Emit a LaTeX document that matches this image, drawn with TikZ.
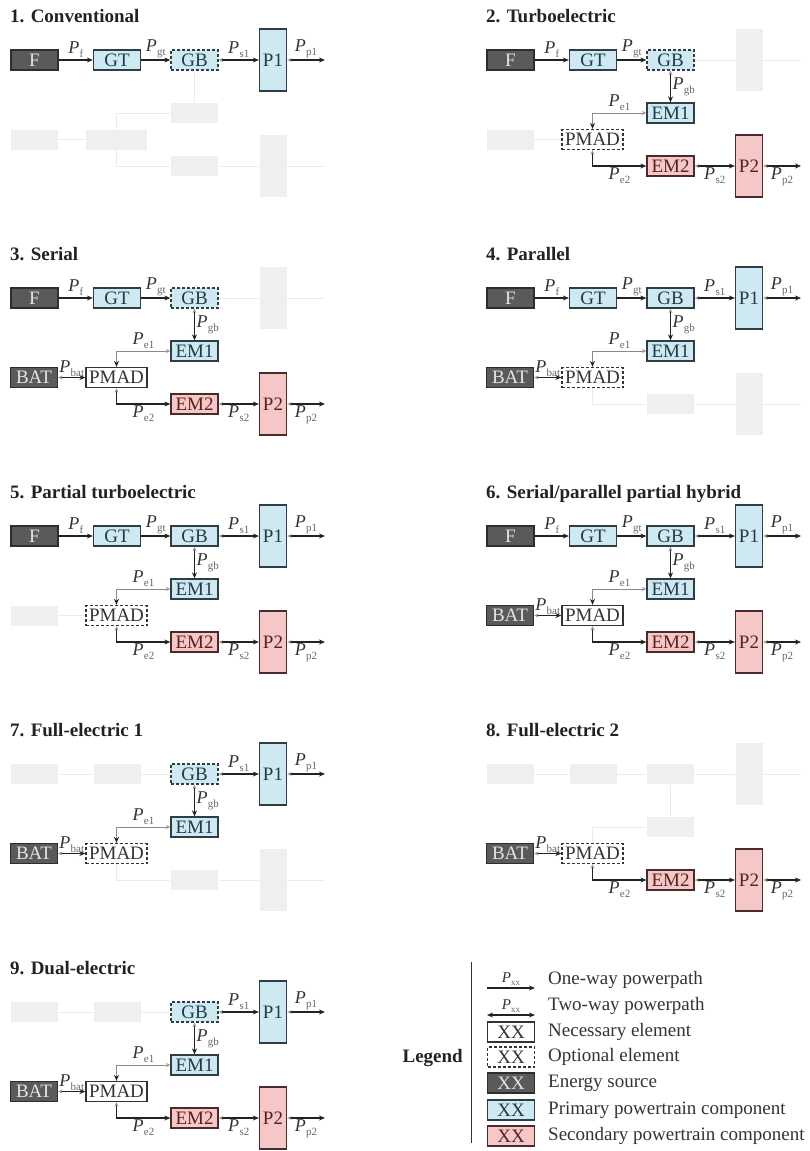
\documentclass[tikz,border=0pt]{standalone}
\usepackage{fontspec}
\setmainfont{Liberation Serif}
\usetikzlibrary{arrows.meta}
\definecolor{srcfill}{HTML}{5A5A5A}
\definecolor{srcdraw}{HTML}{2E2E2E}
\definecolor{srctext}{HTML}{E4E4E4}
\definecolor{primfill}{HTML}{CFE9F2}
\definecolor{primdraw}{HTML}{2F3D44}
\definecolor{primtext}{HTML}{223A46}
\definecolor{secfill}{HTML}{F6C7C7}
\definecolor{secdraw}{HTML}{4A2A2A}
\definecolor{sectext}{HTML}{5A2020}
\definecolor{nessdraw}{HTML}{333333}
\definecolor{nesstext}{HTML}{333333}
\definecolor{ghostc}{HTML}{EFEFEF}
\definecolor{glinec}{HTML}{EBEBEB}
\definecolor{dark}{HTML}{222222}
\definecolor{tipgray}{HTML}{9A9A9A}
\definecolor{lgray}{HTML}{8A8A8A}
\definecolor{labc}{HTML}{333333}
\definecolor{subc}{HTML}{666666}
\definecolor{ttlc}{HTML}{222222}
\newcommand\Pl[1]{\textit{P}\kern0.3pt\raisebox{-4pt}{\fontsize{11}{11}\selectfont\color{subc}#1}}
\newcommand\PlS[1]{\textit{P}\kern0.3pt\raisebox{-3pt}{\fontsize{9}{9}\selectfont\color{subc}#1}}
\tikzset{
 box/.style={draw, line width=1.3, inner sep=0pt, minimum height=20, minimum width=47, font=\fontsize{19}{19}\selectfont},
 src/.style={box, fill=srcfill, draw=srcdraw, text=srctext},
 prim/.style={box, fill=primfill, draw=primdraw, text=primtext},
 sec/.style={box, fill=secfill, draw=secdraw, text=sectext},
 ness/.style={box, fill=white, draw=nessdraw, text=nesstext},
 tall/.style={minimum width=27, minimum height=62},
 wide/.style={minimum width=61},
 ghost/.style={fill=ghostc, draw=none},
 optb/.style={dash pattern=on 3pt off 2pt},
 one/.style={draw=dark, line width=1.2, -{Stealth[length=6,width=5,color=dark]}},
 two/.style={draw=dark, line width=1.2, {Stealth[length=4.5,width=4,color=tipgray]}-{Stealth[length=6,width=5,color=dark]}},
 twog/.style={two, draw=lgray, line width=0.9},
 gline/.style={draw=glinec, line width=1},
 lab/.style={inner sep=1.5pt, text=labc, font=\fontsize{18}{18}\selectfont},
 ttl/.style={anchor=base west, font=\bfseries\fontsize{19}{19}\selectfont, text=ttlc, inner sep=0pt},
 legtxt/.style={anchor=west, inner sep=0pt, text=labc, font=\fontsize{19}{19}\selectfont},
}
\def\setcfg#1#2#3#4#5#6#7#8#9{\def\cF{#1}\def\cGT{#2}\def\cGB{#3}\def\cPa{#4}\def\cEMa{#5}\def\cBAT{#6}\def\cPMAD{#7}\def\cEMb{#8}\def\cPb{#9}}
\newcommand\elem[5]{\ifcase#1\relax\node[#2,ghost](#3) at #4 {};\or\node[#2](#3) at #4 {#5};\or\node[#2,optb](#3) at #4 {#5};\fi}
\newcommand\link[7]{\ifnum\numexpr#1*#2\relax>0 \draw[#3] #4 #5 #6 #7;\else\draw[gline] #4 #5 #7;\fi}
\newcommand\Panel[5]{%
 \begin{scope}[shift={(#2,#3)}, name prefix=#1-]
  \node[ttl] (title) at (10,22) {#4};
  \setcfg#5
  \elem\cF{src}{F}{(34.5,60)}{F}
  \elem\cGT{prim}{GT}{(117,60)}{GT}
  \elem\cGB{prim}{GB}{(194.5,60)}{GB}
  \elem\cPa{prim,tall}{P1}{(273,60)}{P1}
  \elem\cEMa{prim}{EM1}{(194.5,113)}{EM1}
  \elem\cBAT{src}{BAT}{(34,139.5)}{BAT}
  \elem\cPMAD{ness,wide}{PMAD}{(116.5,139.5)}{PMAD}
  \elem\cEMb{sec}{EM2}{(194.5,166)}{EM2}
  \elem\cPb{sec,tall}{P2}{(273,166)}{P2}
  \coordinate (o1) at (325,60);
  \coordinate (o2) at (325,166);
  \link\cF\cGT{one}{(F)}{--}{node[lab,above]{\Pl{f}}}{(GT)}
  \link\cGT\cGB{one}{(GT)}{--}{node[lab,above]{\Pl{gt}}}{(GB)}
  \link\cGB\cPa{two}{(GB)}{--}{node[lab,above]{\Pl{s1}}}{(P1)}
  \link\cPa1{two}{(P1)}{--}{node[lab,above]{\Pl{p1}}}{(o1)}
  \link\cGB\cEMa{two}{(GB)}{--}{node[lab,right]{\Pl{gb}}}{(EM1)}
  \link\cEMa\cPMAD{twog}{(EM1.west)}{-|}{node[lab,above,pos=0.25]{\Pl{e1}}}{(PMAD.north)}
  \link\cBAT\cPMAD{two}{(BAT)}{--}{node[lab,above,inner sep=0.5pt]{\Pl{bat}}}{(PMAD)}
  \link\cPMAD\cEMb{two}{(PMAD.south)}{|-}{node[lab,below,pos=0.75]{\Pl{e2}}}{(EM2.west)}
  \link\cEMb\cPb{two}{(EM2)}{--}{node[lab,below]{\Pl{s2}}}{(P2)}
  \link\cPb1{two}{(P2)}{--}{node[lab,below]{\Pl{p2}}}{(o2)}
 \end{scope}}
\begin{document}
\begin{tikzpicture}[x=1pt,y=-1pt]
\useasboundingbox (0,0) rectangle (810,1151);
\Panel{a}{0}{0}{1. Conventional}{112100000}
\Panel{b}{476}{0}{2. Turboelectric}{112010211}
\Panel{c}{0}{238}{3. Serial}{112011111}
\Panel{d}{476}{238}{4. Parallel}{111111200}
\Panel{e}{0}{476}{5. Partial turboelectric}{111110211}
\Panel{f}{476}{476}{6. Serial/parallel partial hybrid}{111111111}
\Panel{g}{0}{714}{7. Full-electric 1}{002111200}
\Panel{h}{476}{714}{8. Full-electric 2}{000001211}
\Panel{i}{0}{952}{9. Dual-electric}{002111111}
% legend
\node[anchor=east, inner sep=0pt, font=\bfseries\fontsize{19}{19}\selectfont, text=ttlc] (legend) at (463,1058) {Legend};
\coordinate (lt) at (471,962);
\coordinate (lb) at (471,1143);
\draw[draw=labc, line width=1] (lt) -- (lb);
\coordinate (l1a) at (487,988);
\coordinate (l1b) at (535,988);
\draw[one] (l1a) -- node[lab,above,font=\fontsize{15}{15}\selectfont]{\PlS{xx}} (l1b);
\coordinate (l2a) at (487,1015);
\coordinate (l2b) at (535,1015);
\draw[draw=dark, line width=1.2, {Stealth[length=6,width=5]}-{Stealth[length=6,width=5]}] (l2a) -- node[lab,above,font=\fontsize{15}{15}\selectfont]{\PlS{xx}} (l2b);
\node[ness] (lx1) at (511,1032) {XX};
\node[ness,optb] (lx2) at (511,1057) {XX};
\node[src] (lx3) at (511,1083) {XX};
\node[prim] (lx4) at (511,1110) {XX};
\node[sec] (lx5) at (511,1136) {XX};
\node[legtxt] (t1) at (548,980) {One-way powerpath};
\node[legtxt] (t2) at (548,1006) {Two-way powerpath};
\node[legtxt] (t3) at (548,1032) {Necessary element};
\node[legtxt] (t4) at (548,1057) {Optional element};
\node[legtxt] (t5) at (548,1083) {Energy source};
\node[legtxt] (t6) at (548,1110) {Primary powertrain component};
\node[legtxt] (t7) at (548,1136) {Secondary powertrain component};
\end{tikzpicture}
\end{document}
